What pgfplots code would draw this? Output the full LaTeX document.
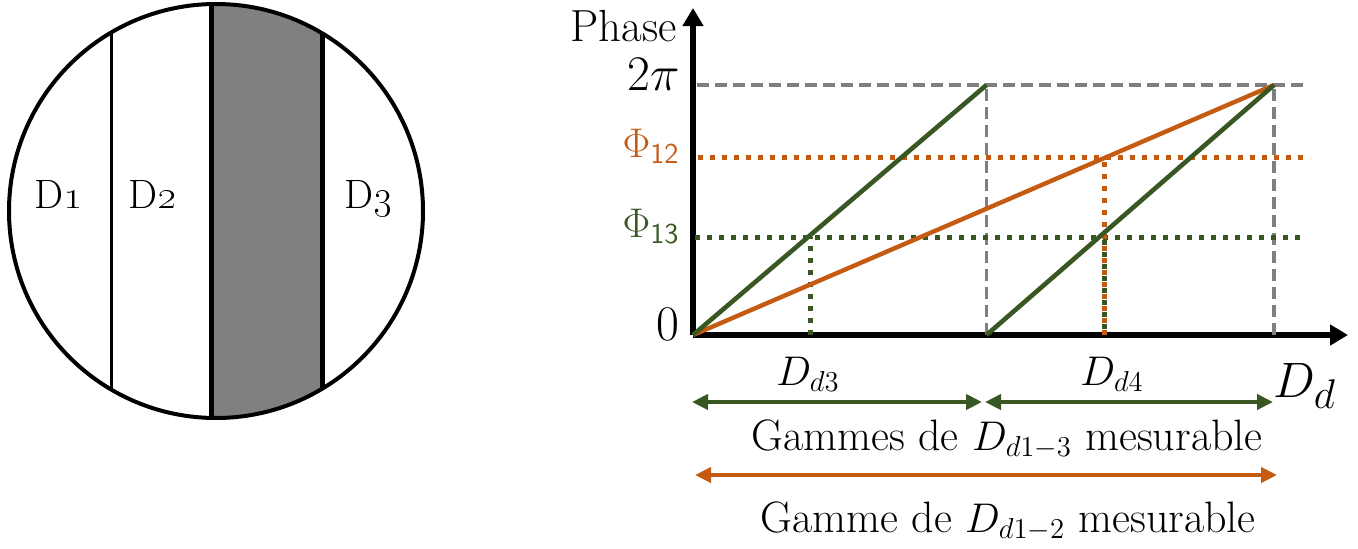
\documentclass[border=0pt]{standalone}
\usepackage{pgfplots}
\pgfplotsset{compat=1.18}
\usetikzlibrary{arrows.meta}
\definecolor{dgreen}{HTML}{385723}
\definecolor{dorange}{HTML}{C55A11}
\definecolor{dgray}{HTML}{7F7F7F}
\begin{document}
\begin{tikzpicture}
\useasboundingbox (0,0) rectangle (679pt,274pt);
% --- detector disc ---
\begin{scope}
\clip (108pt,168.5pt) circle[radius=103.5pt];
\fill[gray] (105.5pt,0) rectangle (161.3pt,274pt);
\draw[line width=1.5pt] (55.5pt,0) -- (55.5pt,274pt);
\draw[line width=2.5pt] (105.5pt,0) -- (105.5pt,274pt);
\draw[line width=2.5pt] (161.3pt,0) -- (161.3pt,274pt);
\end{scope}
\draw[line width=2pt] (108pt,168.5pt) circle[radius=103.5pt];
\node[font=\fontsize{20.5}{20.5}\selectfont, anchor=base, inner sep=0pt] at (29.25pt,170pt) {D\oldstylenums{1}};
\node[font=\fontsize{20.5}{20.5}\selectfont, anchor=base, inner sep=0pt] at (76.5pt,170pt) {D\oldstylenums{2}};
\node[font=\fontsize{20.5}{20.5}\selectfont, anchor=base, inner sep=0pt] at (184.5pt,170pt) {D\oldstylenums{3}};
% --- phase diagram ---
\begin{axis}[
  at={(346.5pt,106.5pt)}, anchor=south west,
  x=0.5pt, y=0.5pt,
  xmin=0, xmax=655, ymin=0, ymax=327,
  enlargelimits=false,
  axis lines=left,
  axis line style={line width=3pt, -{Triangle[length=9pt,width=10pt]}},
  xtick=\empty,
  ytick={0,98,178,250},
  yticklabels={
    {\fontsize{23}{23}\selectfont $0$},
    {\fontsize{21}{21}\selectfont\color{dgreen}$\Phi_{\mathsf{13}}$},
    {\fontsize{21}{21}\selectfont\color{dorange}$\Phi_{\mathsf{12}}$},
    {\fontsize{23}{23}\selectfont $2\pi$}},
  major tick length=0pt,
  yticklabel style={anchor=east, inner sep=0pt, xshift=-6.5pt, yshift=5.5pt},
  clip=false,
  ylabel={Phase},
  every axis y label/.style={at={(axis description cs:0,0.945)}, anchor=east, inner sep=0pt, xshift=-8pt, font=\fontsize{22.5}{22.5}\selectfont},
]
% reference lines
\addplot[dgray, line width=1.7pt, dash pattern=on 6pt off 3pt] coordinates {(4,250) (615,250)};
\addplot[dgray, line width=1.7pt, dash pattern=on 6pt off 3pt] coordinates {(293.5,0) (293.5,250)};
\addplot[dgray, line width=1.7pt, dash pattern=on 6pt off 3pt] coordinates {(581,0) (581,250)};
\addplot[dorange, line width=2.5pt, dash pattern=on 2.5pt off 3.5pt] coordinates {(5,178) (617,178)};
\addplot[dgreen, line width=2.5pt, dash pattern=on 2.5pt off 3.5pt] coordinates {(2,98) (612,98)};
\addplot[dgreen, line width=2.5pt, dash pattern=on 2.5pt off 3.5pt] coordinates {(117,0) (117,98)};
\addplot[dorange, line width=2.5pt, dash pattern=on 2.5pt off 3.5pt] coordinates {(411,0) (411,178)};
\addplot[dgreen, line width=2.5pt, dash pattern=on 2.5pt off 3.5pt, dash phase=3pt] coordinates {(411,0) (411,98)};
% phase ramps
\addplot[dorange, line width=2.2pt] coordinates {(0,0) (581,250)};
\addplot[dgreen, line width=2.3pt] coordinates {(0,0) (293.5,250)};
\addplot[dgreen, line width=2.3pt] coordinates {(293.5,0) (581,250)};
% ranges
\draw[dgreen, line width=2pt, {Triangle[length=8pt,width=7.5pt]}-{Triangle[length=8pt,width=7.5pt]}] (axis cs:-1,-67) -- (axis cs:289,-67);
\draw[dgreen, line width=2pt, {Triangle[length=8pt,width=7.5pt]}-{Triangle[length=8pt,width=7.5pt]}] (axis cs:292,-67) -- (axis cs:580,-67);
\draw[dorange, line width=2pt, {Triangle[length=8pt,width=7.5pt]}-{Triangle[length=8pt,width=7.5pt]}] (axis cs:2,-140) -- (axis cs:584,-140);
\node[anchor=base, inner sep=0pt, font=\fontsize{22}{22}\selectfont] at (axis cs:115,-50) {$D_{d3}$};
\node[anchor=base, inner sep=0pt, font=\fontsize{22}{22}\selectfont] at (axis cs:419,-50) {$D_{d4}$};
\node[anchor=base west, inner sep=0pt, font=\fontsize{28.5}{28.5}\selectfont] at (axis cs:580,-62) {$D_d$};
\node[anchor=base, inner sep=0pt, font=\fontsize{22}{22}\selectfont] at (axis cs:314,-115) {Gammes de $D_{d1-3}$ mesurable};
\node[anchor=base, inner sep=0pt, font=\fontsize{22}{22}\selectfont] at (axis cs:315,-197) {Gamme de $D_{d1-2}$ mesurable};
\end{axis}
\end{tikzpicture}
\end{document}
